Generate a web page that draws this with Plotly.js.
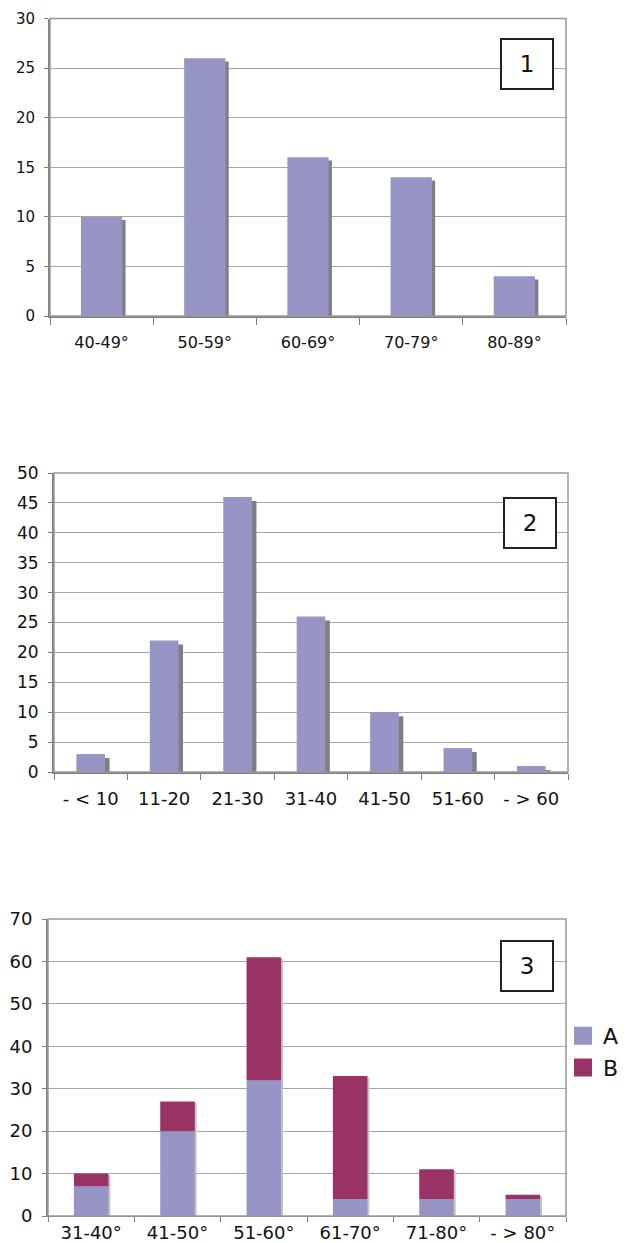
<!DOCTYPE html>
<html>
<head>
<meta charset="utf-8">
<script src="https://cdn.plot.ly/plotly-3.0.1.min.js"></script>
<style>html,body{margin:0;padding:0;background:#fff;}#chart{width:629px;height:1243px;}</style>
</head>
<body>
<div id="chart"></div>
<script>
// ---- data ----
var cats1 = ['40-49°', '50-59°', '60-69°', '70-79°', '80-89°'];
var vals1 = [10, 26, 16, 14, 4];

var cats2 = ['- < 10', '11-20', '21-30', '31-40', '41-50', '51-60', '- > 60'];
var vals2 = [3, 22, 46, 26, 10, 4, 1];

var cats3 = ['31-40°', '41-50°', '51-60°', '61-70°', '71-80°', '- > 80°'];
var valsA = [7, 20, 32, 4, 4, 4];
var valsB = [3, 7, 29, 29, 7, 1];

var seriesNames = ['A', 'B'];
var panelLabels = ['1', '2', '3'];

// ---- layout helpers ----
var W = 629, H = 1243;
function px(x) { return x / W; }
function py(y) { return 1 - y / H; }

var barColor = '#9795C6';
var bColor = '#993366';
var font = 'DejaVu Sans, Verdana, sans-serif';

var totals3 = valsA.map(function (a, i) { return a + valsB[i]; });

var traces = [
  // chart 1
  { type: 'bar', x: cats1, y: vals1, base: -0.33, width: 0.4, offset: -0.168,
    marker: { color: '#7f7f7f', line: { width: 0 } }, xaxis: 'x', yaxis: 'y', showlegend: false, hoverinfo: 'skip' },
  { type: 'bar', x: cats1, y: vals1, width: 0.4,
    marker: { color: barColor, line: { width: 0 } }, xaxis: 'x', yaxis: 'y', showlegend: false },
  // chart 2
  { type: 'bar', x: cats2, y: vals2, base: -0.67, width: 0.39, offset: -0.195 + 0.062,
    marker: { color: '#7f7f7f', line: { width: 0 } }, xaxis: 'x2', yaxis: 'y2', showlegend: false, hoverinfo: 'skip' },
  { type: 'bar', x: cats2, y: vals2, width: 0.39,
    marker: { color: barColor, line: { width: 0 } }, xaxis: 'x2', yaxis: 'y2', showlegend: false },
  // chart 3
  { type: 'bar', x: cats3, y: totals3, base: -0.35, width: 0.4, offset: -0.2 + 0.022,
    marker: { color: '#c4c4c4', line: { width: 0 } }, xaxis: 'x3', yaxis: 'y3', showlegend: false, hoverinfo: 'skip' },
  { type: 'bar', x: cats3, y: valsA, width: 0.4, name: seriesNames[0], legendgroup: 'A', showlegend: false,
    marker: { color: barColor, line: { width: 0 } }, xaxis: 'x3', yaxis: 'y3' },
  { type: 'bar', x: cats3, y: valsB, base: valsA, width: 0.4, name: seriesNames[1], legendgroup: 'B', showlegend: false,
    marker: { color: bColor, line: { width: 0 } }, xaxis: 'x3', yaxis: 'y3' },
  // legend entries (large square swatches)
  { type: 'scatter', mode: 'markers', x: [null], y: [null], name: seriesNames[0], legendgroup: 'A',
    marker: { symbol: 'square', size: 16, color: barColor, line: { color: barColor, width: 2 } }, xaxis: 'x3', yaxis: 'y3' },
  { type: 'scatter', mode: 'markers', x: [null], y: [null], name: seriesNames[1], legendgroup: 'B',
    marker: { symbol: 'square', size: 16, color: bColor, line: { color: bColor, width: 2 } }, xaxis: 'x3', yaxis: 'y3' }
];

function xax(domain, n, size, lw, tl, standoff) {
  return {
    domain: domain, type: 'category', range: [-0.5, n - 0.5],
    showline: true, linecolor: '#808080', linewidth: lw,
    ticks: 'outside', tickson: 'boundaries', ticklen: tl, tickcolor: '#808080', tickwidth: 1,
    ticklabelstandoff: standoff,
    tickfont: { family: font, size: size, color: '#111' },
    showgrid: false, zeroline: false, fixedrange: true
  };
}
function yax(domain, max, dtick, size, anchor) {
  return {
    domain: domain, range: [0, max], dtick: dtick, anchor: anchor,
    showline: true, linecolor: '#808080', linewidth: 2,
    ticks: 'outside', ticklen: 4, tickcolor: '#808080', tickwidth: 1,
    ticklabelstandoff: 6,
    tickfont: { family: font, size: size, color: '#111' },
    showgrid: true, gridcolor: '#a6a6a6', gridwidth: 1,
    zeroline: false, fixedrange: true
  };
}

var x1 = xax([px(50), px(566)], cats1.length, 16, 2, 7, 11); x1.anchor = 'y';
var x2 = xax([px(54), px(568)], cats2.length, 18, 2, 6, 9); x2.anchor = 'y2';
var x3 = xax([px(48), px(566)], cats3.length, 18, 1, 5, 0); x3.anchor = 'y3';

var y1 = yax([py(316), py(18.5)], 30, 5, 15, 'x');
var y2 = yax([py(772), py(473)], 50, 5, 17, 'x2');
var y3 = yax([py(1216), py(919)], 70, 10, 18, 'x3');

function frame(xr, yr) {
  return { type: 'rect', xref: xr + ' domain', yref: yr + ' domain', x0: 0, x1: 1, y0: 0, y1: 1,
    line: { color: '#999', width: 1.5 }, layer: 'above' };
}

function box(text, cx, cy) {
  return { xref: 'paper', yref: 'paper', x: px(cx), y: py(cy), xanchor: 'center', yanchor: 'middle',
    text: text, showarrow: false, font: { family: font, size: 23, color: '#111' },
    bgcolor: '#fff', bordercolor: '#222', borderwidth: 2, borderpad: 0, width: 50, height: 48 };
}

var layout = {
  width: W, height: H,
  margin: { l: 0, r: 0, t: 0, b: 0 },
  paper_bgcolor: '#fff', plot_bgcolor: '#fff',
  barmode: 'overlay',
  xaxis: x1, yaxis: y1, xaxis2: x2, yaxis2: y2, xaxis3: x3, yaxis3: y3,
  shapes: [frame('x', 'y'), frame('x2', 'y2'), frame('x3', 'y3')],
  annotations: [box(panelLabels[0], 527, 64), box(panelLabels[1], 529.5, 523), box(panelLabels[2], 526.5, 966)],
  showlegend: true,
  legend: { x: px(563), y: py(1015), xanchor: 'left', yanchor: 'top', traceorder: 'normal', itemsizing: 'trace',
    font: { family: font, size: 22, color: '#111' }, bgcolor: 'rgba(0,0,0,0)', itemwidth: 30, tracegroupgap: 0 },
  font: { family: font }
};

Plotly.newPlot('chart', traces, layout, { staticPlot: true, displayModeBar: false });
</script>
</body>
</html>
